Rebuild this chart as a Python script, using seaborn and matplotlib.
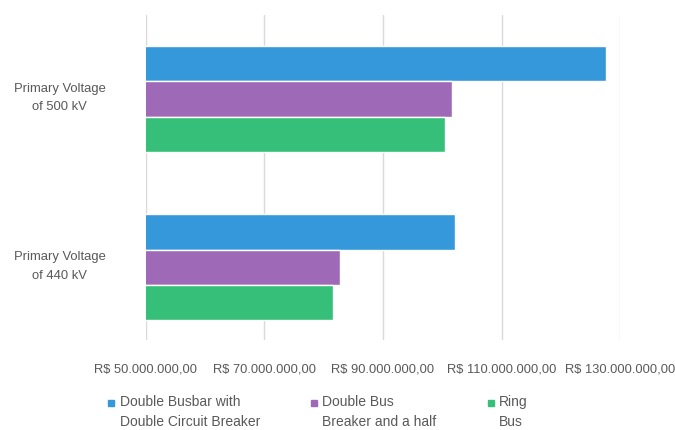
import matplotlib
matplotlib.use("Agg")
import matplotlib.pyplot as plt
import matplotlib.transforms as mtransforms
import seaborn as sns
import pandas as pd
from matplotlib.ticker import FuncFormatter, FixedLocator
from matplotlib.lines import Line2D

categories = ["Primary Voltage\nof 500 kV", "Primary Voltage\nof 440 kV"]
series = ["Double Busbar with\nDouble Circuit Breaker", "Double Bus\nBreaker and a half", "Ring\nBus"]
double_busbar = [127_600_000, 102_200_000]
breaker_half = [101_600_000, 82_700_000]
ring_bus = [100_400_000, 81_600_000]
xticks = [50_000_000, 70_000_000, 90_000_000, 110_000_000, 130_000_000]
colors = ["#3498db", "#9e6ab8", "#36bf78"]

rows = []
for s, vals in zip(series, [double_busbar, breaker_half, ring_bus]):
    for c, v in zip(categories, vals):
        rows.append({"cat": c, "series": s, "value": v})
df = pd.DataFrame(rows)

sns.set_style("white")
plt.rcParams["font.family"] = ["Liberation Sans", "DejaVu Sans"]

fig = plt.figure(figsize=(6.75, 4.3), dpi=100)
ax = fig.add_axes([0.216, 0.21, 0.703, 0.755])

sns.barplot(data=df, y="cat", x="value", hue="series", order=categories,
            hue_order=series, palette=colors, orient="h", width=0.63,
            saturation=1, ax=ax, legend=False)

ax.set_xlim(50_000_000, 130_000_000)
ax.set_ylim(1.43, -0.5)
ax.xaxis.set_major_locator(FixedLocator(xticks))
ax.xaxis.set_major_formatter(FuncFormatter(
    lambda v, p: "R$ " + f"{v:,.2f}".replace(",", "X").replace(".", ",").replace("X", ".")))
ax.grid(axis="x", color="#d9d9d9", linewidth=1)
ax.set_axisbelow(True)
for sp in ax.spines.values():
    sp.set_visible(False)
ax.set_xlabel("")
ax.set_ylabel("")
ax.tick_params(axis="x", length=0, pad=17, labelsize=9.3, labelcolor="#595959")
ax.tick_params(axis="y", length=0, pad=29, labelsize=9.4, labelcolor="#595959")
offset = mtransforms.ScaledTranslation(0, 6 / 100, fig.dpi_scale_trans)
for lbl in ax.get_yticklabels():
    lbl.set_multialignment("center")
    lbl.set_linespacing(1.75)
    lbl.set_transform(lbl.get_transform() + offset)

handles = [Line2D([0], [0], marker="s", linestyle="", markersize=5,
                  markerfacecolor=c, markeredgecolor=c) for c in colors]
leg = fig.legend(handles, series, loc="lower left", bbox_to_anchor=(0.14, -0.027),
                 ncol=3, frameon=False, fontsize=10, labelcolor="#595959",
                 handlelength=0.6, handletextpad=0.3, columnspacing=3.6)
for t in leg.get_texts():
    t.set_linespacing(1.6)
# markers sit beside the first line of each label, as in the reference
for h in leg.legend_handles:
    h.set_transform(h.get_transform() + mtransforms.ScaledTranslation(0, 9 / 100, fig.dpi_scale_trans))

fig.savefig("out.png", dpi=100)
